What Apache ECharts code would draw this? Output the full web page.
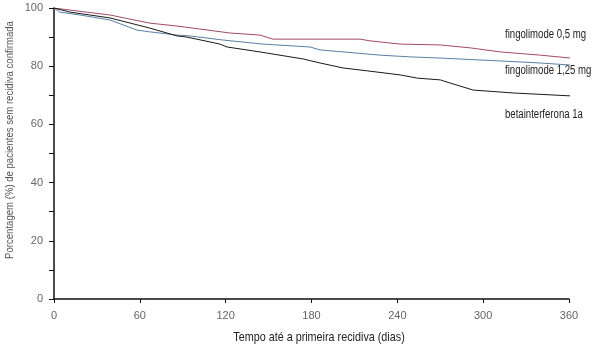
<!DOCTYPE html>
<html><head><meta charset="utf-8">
<script src="https://cdn.jsdelivr.net/npm/echarts@6/dist/echarts.min.js"></script>
<style>html,body{margin:0;padding:0;background:#fff}#c{width:600px;height:346px}</style>
</head><body><div id="c"></div>
<script>
const xTicks = [0, 60, 120, 180, 240, 300, 360];
const yTicks = [0, 20, 40, 60, 80, 100];
const seriesNames = ['fingolimode 0,5 mg', 'fingolimode 1,25 mg', 'betainterferona 1a'];
const fingo05Days = [0, 11, 39, 67, 86, 97, 123, 144, 153, 179, 214, 221, 242, 270, 291, 312, 340, 361];
const fingo05Vals = [100, 99.3, 97.6, 94.8, 93.8, 93.1, 91.4, 90.7, 89.3, 89.3, 89.3, 88.7, 87.6, 87.3, 86.3, 84.9, 83.8, 82.8];
const fingo125Days = [0, 2, 4, 18, 39, 58, 67, 86, 95, 118, 146, 179, 186, 228, 249, 270, 312, 340, 361];
const fingo125Vals = [100, 99.3, 98.6, 97.6, 95.9, 92.4, 91.8, 90.7, 90.4, 89.0, 87.6, 86.6, 85.6, 83.8, 83.2, 82.8, 81.8, 81.1, 80.4];
const betaDays = [0, 11, 39, 67, 86, 93, 116, 121, 144, 174, 186, 202, 219, 242, 254, 270, 277, 293, 321, 361];
const betaVals = [100, 98.6, 96.6, 93.1, 90.4, 90.0, 87.6, 86.6, 84.9, 82.5, 81.1, 79.4, 78.4, 77.0, 75.9, 75.3, 74.2, 71.8, 70.8, 69.8];
const yTitle = 'Porcentagem (%) de pacientes sem recidiva confirmada';
const xTitle = 'Tempo até a primeira recidiva (dias)';

const pair = (d, v) => d.map((x, i) => [x, v[i]]);
const chart = echarts.init(document.getElementById('c'), null, {renderer: 'canvas'});
const fam = '"Liberation Sans", sans-serif';
const txt = (name, x, y) => ({type: 'text', x: x, y: y, scaleX: 0.8,
  style: {text: name, fill: '#222', font: '12px ' + fam, align: 'left', verticalAlign: 'middle'}});
chart.setOption({
  animation: false,
  grid: {left: 54, right: 31, top: 8, bottom: 47},
  xAxis: {
    type: 'value', min: xTicks[0], max: xTicks[xTicks.length - 1], interval: 60,
    axisLine: {lineStyle: {color: '#111', width: 1.5}},
    axisTick: {length: 4, lineStyle: {color: '#111'}},
    axisLabel: {color: '#666', fontSize: 11, margin: 11, fontFamily: 'Liberation Sans'},
    splitLine: {show: false}
  },
  yAxis: {
    type: 'value', min: 0, max: 100, interval: 10,
    axisLine: {show: true, lineStyle: {color: '#111', width: 1.5}},
    axisTick: {length: 5, lineStyle: {color: '#111'}},
    axisLabel: {color: '#666', fontSize: 11, margin: 11, interval: 1, fontFamily: 'Liberation Sans',
      formatter: v => yTicks.includes(v) ? String(v) : ''},
    splitLine: {show: false}
  },
  series: [
    {name: seriesNames[0], type: 'line', symbol: 'none', data: pair(fingo05Days, fingo05Vals), lineStyle: {color: '#a04a68', width: 1}},
    {name: seriesNames[1], type: 'line', symbol: 'none', data: pair(fingo125Days, fingo125Vals), lineStyle: {color: '#5a7fa3', width: 1}},
    {name: seriesNames[2], type: 'line', symbol: 'none', data: pair(betaDays, betaVals), lineStyle: {color: '#1a1a1a', width: 1}}
  ],
  graphic: [
    txt(seriesNames[0], 505, 35),
    txt(seriesNames[1], 505, 71),
    txt(seriesNames[2], 505, 115),
    {type: 'text', x: 10, y: 140, rotation: Math.PI / 2, scaleX: 0.87,
     style: {text: yTitle, fill: '#555', font: '11px ' + fam, align: 'center', verticalAlign: 'middle'}},
    {type: 'text', x: 319, y: 337, scaleX: 0.83,
     style: {text: xTitle, fill: '#222', font: '13px ' + fam, align: 'center', verticalAlign: 'middle'}}
  ]
});
</script></body></html>
